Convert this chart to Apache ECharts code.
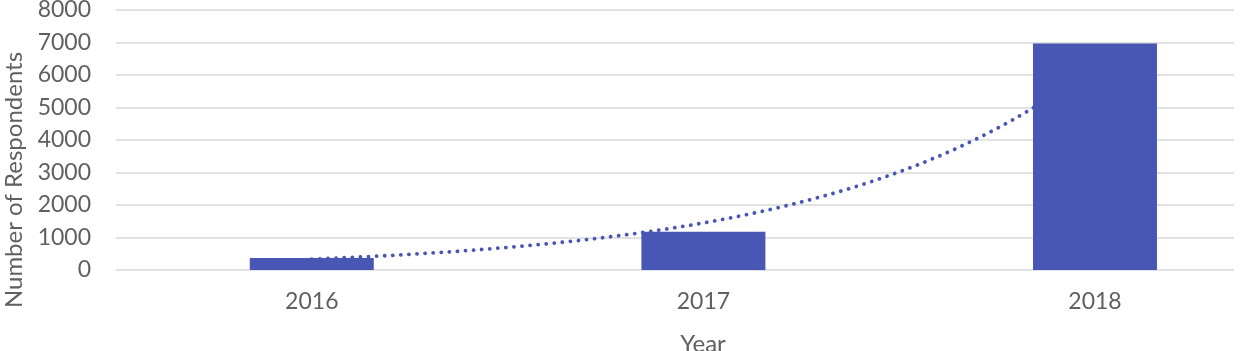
<!DOCTYPE html>
<html>
<head>
<meta charset="utf-8">
<script src="https://cdn.jsdelivr.net/npm/echarts@6/dist/echarts.min.js"></script>
<style>html,body{margin:0;padding:0;background:#fff;}#c{width:1243px;height:351px;}</style>
</head>
<body>
<div id="c"></div>
<script>
const years = [2016, 2017, 2018];
const respondents = [370, 1180, 6970];
const yTicks = [0, 1000, 2000, 3000, 4000, 5000, 6000, 7000, 8000];

// Exponential trendline (least squares on ln y), as in the spreadsheet
const n = years.length;
const lx = years.map(y => y - years[0]);
const ly = respondents.map(v => Math.log(v));
const mx = lx.reduce((a, b) => a + b, 0) / n;
const my = ly.reduce((a, b) => a + b, 0) / n;
let sxy = 0, sxx = 0;
for (let i = 0; i < n; i++) { sxy += (lx[i] - mx) * (ly[i] - my); sxx += (lx[i] - mx) ** 2; }
const slope = sxy / sxx, icpt = my - slope * mx;
const trend = [];
const steps = 80;
for (let k = 0; k <= steps; k++) {
  const t = (years[n - 1] - years[0]) * k / steps;
  trend.push([years[0] + t, Math.exp(icpt + slope * t)]);
}

const font = 'Lato';
const txt = '#606060';
const chart = echarts.init(document.getElementById('c'));
chart.setOption({
  animation: false,
  backgroundColor: '#ffffff',
  grid: { left: 116, right: 9, top: 10, bottom: 81, containLabel: false, outerBoundsMode: 'none' },
  xAxis: {
    type: 'value', min: 2015.5, max: 2018.355,
    name: 'Year', nameLocation: 'middle', nameGap: 62,
    nameTextStyle: { fontFamily: font, fontSize: 24, color: txt, padding: [0, 0, 0, 56] },
    axisLine: { show: false }, axisTick: { show: false }, splitLine: { show: false },
    axisLabel: { customValues: years, fontFamily: font, fontSize: 23, color: txt, margin: 20,
      formatter: v => String(v) }
  },
  yAxis: {
    type: 'value', min: yTicks[0], max: yTicks[yTicks.length - 1], interval: yTicks[1] - yTicks[0],
    name: 'Number of Respondents', nameLocation: 'middle', nameGap: 87,
    nameTextStyle: { fontFamily: font, fontSize: 24, color: txt, padding: [0, 80, 0, 0] },
    axisLine: { show: false }, axisTick: { show: false },
    splitLine: { lineStyle: { color: '#d9d9d9', width: 1.5 } },
    axisLabel: { fontFamily: font, fontSize: 23, color: txt, margin: 25, formatter: v => String(v) }
  },
  series: [
    { type: 'bar', data: years.map((y, i) => [y, respondents[i]]), barWidth: 124,
      itemStyle: { color: '#4857b3' }, z: 2 },
    { type: 'line', data: trend, showSymbol: false, smooth: false, z: 3,
      lineStyle: { color: '#4857b3', width: 3.8, type: [0.1, 8], cap: 'round' } }
  ]
});
</script>
</body>
</html>
